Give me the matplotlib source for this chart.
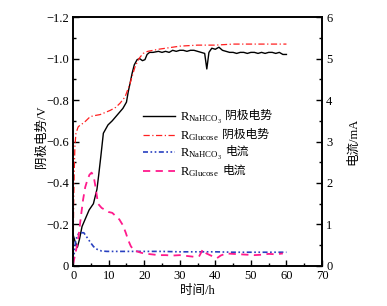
import matplotlib
matplotlib.use("Agg")
import matplotlib.pyplot as plt
from matplotlib.ticker import MultipleLocator, FuncFormatter

plt.rcParams['font.family'] = ['Liberation Serif', 'Noto Sans CJK SC']
plt.rcParams['mathtext.fontset'] = 'custom'
plt.rcParams['mathtext.rm'] = 'Liberation Serif'
plt.rcParams['mathtext.it'] = 'Liberation Serif:italic'
plt.rcParams['font.size'] = 9

# NaHCO3 cathode potential (V)
t_na_pot = [0, 0.5, 1.2, 1.8, 2.5, 3.5, 4.5, 5.7, 6.7, 7.2, 7.8, 8.5, 9.8, 11, 12, 13, 14,
            15, 15.5, 16, 16.6, 17.2, 18, 18.7, 19.5, 20.2, 20.8, 21.5, 22.5, 24, 25, 26,
            27, 28, 29, 30, 31, 32, 33, 34, 35, 36, 37, 37.6, 38.2, 39, 40, 41, 42, 43,
            44, 45, 46, 47, 48, 49, 50, 51, 52, 53, 54, 55, 56, 57, 58, 59, 60]
v_na_pot = [-0.15, -0.12, -0.09, -0.13, -0.19, -0.23, -0.27, -0.30, -0.37, -0.44, -0.53,
            -0.64, -0.68, -0.70, -0.72, -0.74, -0.76, -0.79, -0.84, -0.88, -0.93, -0.97,
            -0.995, -1.0, -0.99, -0.995, -1.02, -1.03, -1.03, -1.035, -1.03, -1.035,
            -1.03, -1.04, -1.035, -1.04, -1.04, -1.035, -1.04, -1.04, -1.035, -1.03,
            -1.025, -0.95, -1.03, -1.05, -1.045, -1.055, -1.04, -1.035, -1.03, -1.03,
            -1.025, -1.03, -1.03, -1.025, -1.03, -1.03, -1.025, -1.03, -1.025, -1.03,
            -1.03, -1.025, -1.03, -1.02, -1.02]

# Glucose cathode potential (V)
t_gl_pot = [0, 0.15, 0.3, 0.5, 0.8, 1.4, 2, 3, 4.8, 6, 7.6, 9, 10.4, 12, 13.2, 14.6, 16,
            17.4, 18.5, 19.7, 21, 22.5, 24, 26, 28, 30, 35, 40, 45, 50, 55, 60]
v_gl_pot = [-0.05, -0.3, -0.45, -0.58, -0.64, -0.67, -0.68, -0.69, -0.72, -0.725, -0.73,
            -0.74, -0.75, -0.765, -0.785, -0.815, -0.88, -0.96, -1.0, -1.025, -1.035,
            -1.04, -1.045, -1.05, -1.055, -1.06, -1.065, -1.065, -1.07, -1.07, -1.07,
            -1.07]

# NaHCO3 current (mA)
t_na_cur = [0, 0.3, 0.7, 1.2, 2, 3, 4.2, 5, 5.7, 6.3, 7, 8, 9.5, 12, 15, 20, 25, 30, 35,
            40, 45, 50, 55, 60]
i_na_cur = [0.1, 0.3, 0.6, 0.75, 0.8, 0.8, 0.65, 0.55, 0.47, 0.42, 0.39, 0.36, 0.35,
            0.35, 0.35, 0.35, 0.35, 0.34, 0.34, 0.34, 0.33, 0.33, 0.33, 0.33]

# Glucose current (mA)
t_gl_cur = [0, 0.5, 1, 1.5, 2.2, 2.8, 3.4, 4, 4.6, 5.2, 5.8, 6.3, 7, 8, 9, 10, 11, 12, 13,
            14, 14.8, 15.5, 16.2, 17, 18, 19, 20, 22, 24, 26, 28, 30, 32, 34, 35.5, 36.5,
            37.5, 38.5, 39.5, 40.5, 41.5, 43, 45, 47, 49, 51, 53, 55, 57, 59]
i_gl_cur = [0.05, 0.25, 0.45, 0.7, 1.2, 1.6, 1.9, 2.07, 2.2, 2.25, 2.15, 1.9, 1.5, 1.4,
            1.35, 1.3, 1.28, 1.2, 1.12, 0.98, 0.8, 0.62, 0.48, 0.38, 0.35, 0.32, 0.3, 0.28,
            0.26, 0.26, 0.25, 0.26, 0.24, 0.22, 0.24, 0.4, 0.3, 0.26, 0.22, 0.19, 0.25,
            0.3, 0.29, 0.28, 0.27, 0.26, 0.27, 0.29, 0.28, 0.3]

# legend: latin part (mathtext) + chinese part (drawn with a CJK font)
leg_names = [r'R$_{\mathrm{NaHCO_3}}$', r'R$_{\mathrm{Glucose}}$',
             r'R$_{\mathrm{NaHCO_3}}$', r'R$_{\mathrm{Glucose}}$']
leg_cn = ['阴极电势', '阴极电势', '电流', '电流']

fig = plt.figure(figsize=(3.87, 3.06), dpi=100)
ax = fig.add_axes([0.189, 0.131, 0.643, 0.813])
ax2 = ax.twinx()

l1, = ax.plot(t_na_pot, v_na_pot, color='black', lw=1.0, ls='-')
l2, = ax.plot(t_gl_pot, v_gl_pot, color='#ff2020', lw=0.9, ls=(0, (5, 2, 1, 2)))
l3, = ax2.plot(t_na_cur, i_na_cur, color='#2840c0', lw=1.2, ls=(0, (3, 1.5, 1, 1.5, 1, 1.5)))
l4, = ax2.plot(t_gl_cur, i_gl_cur, color='#ff1a8c', lw=1.3, ls=(0, (4, 3)))

ax.set_xlim(0, 70)
ax.set_ylim(0, -1.2)
ax2.set_ylim(0, 6)

ax.xaxis.set_major_locator(MultipleLocator(10))
ax.xaxis.set_minor_locator(MultipleLocator(5))
ax.yaxis.set_major_locator(MultipleLocator(0.2))
ax.yaxis.set_minor_locator(MultipleLocator(0.1))
ax2.yaxis.set_major_locator(MultipleLocator(1))
ax2.yaxis.set_minor_locator(MultipleLocator(0.5))

ax.yaxis.set_major_formatter(FuncFormatter(lambda v, p: '0' if abs(v) < 1e-9 else f'{v:.1f}'.replace('-', '\u2212')))

for a in (ax, ax2):
    a.tick_params(which='both', direction='in', width=1.0)
    a.tick_params(which='major', length=4)
    a.tick_params(which='minor', length=2.5)
    for s in a.spines.values():
        s.set_linewidth(1.2)
ax.tick_params(axis='both', labelsize=9, pad=3)
ax2.tick_params(axis='y', labelsize=9, pad=3)

ax.set_xlabel('时间/h', fontsize=9, labelpad=2)
ax.set_ylabel('阴极电势/V', fontsize=9)
ax.yaxis.set_label_coords(-0.10, 0.52)
ax2.set_ylabel('电流/mA', fontsize=9)
ax2.yaxis.set_label_coords(1.10, 0.5)

leg = ax2.legend([l1, l2, l3, l4], leg_names, loc='upper left', bbox_to_anchor=(0.26, 0.645),
                 frameon=False, fontsize=9, handlelength=2.6, handletextpad=0.4,
                 labelspacing=0.3, borderaxespad=0)

fig.canvas.draw()
renderer = fig.canvas.get_renderer()
W, H = fig.bbox.width, fig.bbox.height
for txt, cn in zip(leg.get_texts(), leg_cn):
    bb = txt.get_window_extent(renderer)
    fig.text((bb.x1 + 3) / W, (bb.y1 - 5) / H, cn, fontsize=8.5,
             family=['Noto Sans CJK SC'], ha='left', va='center')

fig.savefig('out.png', dpi=100)
